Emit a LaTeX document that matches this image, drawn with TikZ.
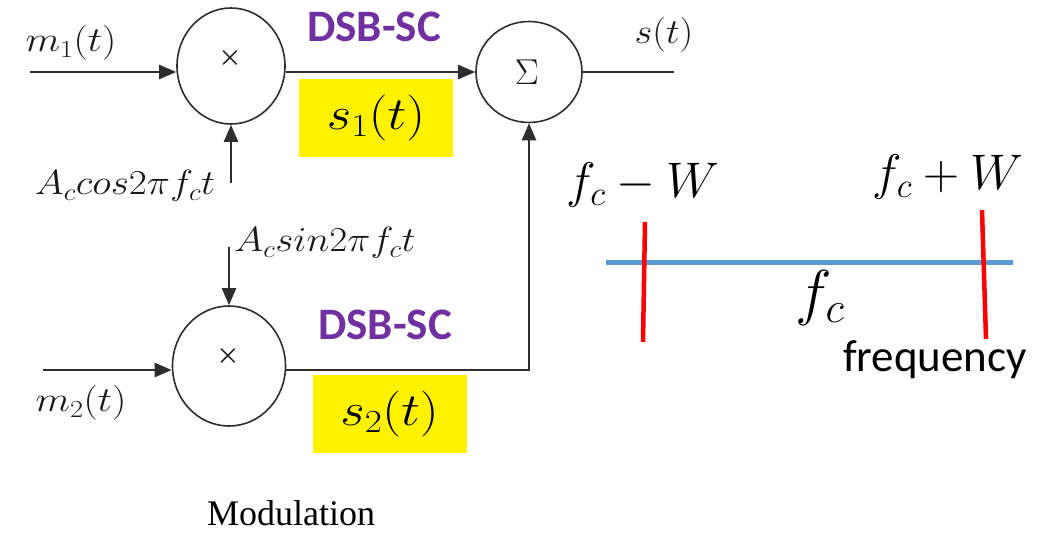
\RequirePackage{fix-cm}
\documentclass[tikz,border=0pt]{standalone}
\usepackage{fontspec}
\usepackage{graphicx}
\newfontfamily\calib{Carlito}
\newfontfamily\timesf{Liberation Serif}
\usetikzlibrary{arrows.meta,shapes.geometric}
\definecolor{dsbpurple}{HTML}{7030A0}
\definecolor{axisblue}{HTML}{5B9BD5}
\definecolor{linegray}{HTML}{2E2E2E}
\newcommand{\fs}[1]{\fontsize{#1}{#1}\selectfont}
\newcommand{\wide}[2]{\scalebox{#1}[1]{#2}}
\tikzset{
  opnode/.style={ellipse,draw=linegray,line width=1.6pt,inner sep=0pt},
  sig/.style={line width=2.4pt,draw=linegray},
  sigarrow/.style={sig,-{Triangle[length=17pt,width=14pt]}},
  lbl/.style={inner sep=0pt,text=black!90},
  dsb/.style={inner sep=0pt,text=dsbpurple,font=\calib\bfseries\fs{45}},
  ybox/.style={fill=yellow,minimum width=154pt,minimum height=78pt,inner sep=0pt,font=\fs{46}},
  redtick/.style={draw=red,line width=4.5pt},
  bigmath/.style={inner sep=0pt,font=\fs{50}},
}
\begin{document}
\begin{tikzpicture}[x=1pt,y=-1pt]
\useasboundingbox (0,0) rectangle (1040,533);
% nodes
\node[opnode,minimum width=108pt,minimum height=116pt] (mult1) at (231,66) {};
\node[lbl,font=\fs{26}\boldmath] (x1) at (230,58) {$\times$};
\node[opnode,minimum width=106pt,minimum height=101pt] (sum) at (529,72) {};
\node[lbl,font=\fs{36}] (sig) at (527,72) {$\Sigma$};
\node[opnode,minimum width=113pt,minimum height=120pt] (mult2) at (229,366) {};
\node[lbl,font=\fs{26}\boldmath] (x2) at (228,356) {$\times$};
% labels
\node[lbl,font=\fs{35}] (m1) at (71,43) {\wide{1.15}{$m_1(t)$}};
\node[lbl,font=\fs{35}] (cosl) at (125,186) {\wide{1.12}{$A_c cos 2\pi f_c t$}};
\node[lbl,font=\fs{35}] (sinl) at (325,243) {\wide{1.12}{$A_c sin 2\pi f_c t$}};
\node[lbl,font=\fs{35}] (m2) at (81,403) {\wide{1.15}{$m_2(t)$}};
\node[lbl,font=\fs{35}] (st) at (664,35) {\wide{1.1}{$s(t)$}};
\node[dsb] (dsb1) at (374,27) {DSB-SC};
\node[dsb] (dsb2) at (385,325) {DSB-SC};
\node[ybox] (s1) at (376,118) {\wide{1.15}{$s_1(t)$}};
\node[ybox] (s2) at (389.5,414) {\wide{1.15}{$s_2(t)$}};
\node[inner sep=0pt,font=\timesf\fs{36}] (mod) at (291,513) {Modulation};
% coordinates
\coordinate (m1in) at (30,72);
\coordinate (cosbot) at (231,183);
\coordinate (sintop) at (229,247);
\coordinate (m2in) at (43,370);
\coordinate (sout) at (674,72);
% connectors
\draw[sigarrow] (m1in) -- (m1in -| mult1.west);
\draw[sigarrow] (sum.west -| mult1.east) -- (sum.west);
\draw[sig] (sum.east) -- (sout);
\draw[sigarrow] (cosbot) -- (mult1.south);
\draw[sigarrow] (sintop) -- (mult2.north);
\draw[sigarrow] (m2in) -- (m2in -| mult2.west);
\draw[sigarrow] (m2in -| mult2.east) -- (m2in -| sum.south) -- (sum.south);
% frequency diagram
\coordinate (axl) at (606,262);
\coordinate (axr) at (1013,262);
\coordinate (rlt) at (645,222);
\coordinate (rlb) at (643,342);
\coordinate (rrt) at (982,210);
\coordinate (rrb) at (986,339);
\draw[draw=axisblue,line width=5pt] (axl) -- (axr);
\draw[redtick] (rlt) -- (rlb);
\draw[redtick] (rrt) -- (rrb);
\node[bigmath] (fmw) at (643,185) {$f_c-W$};
\node[bigmath] (fpw) at (948,177) {$f_c+W$};
\node[inner sep=0pt,font=\fs{62}] (fc) at (820,298) {$f_c$};
\node[inner sep=0pt,font=\calib\fs{45}] (freq) at (935,360) {frequency};
\end{tikzpicture}
\end{document}
